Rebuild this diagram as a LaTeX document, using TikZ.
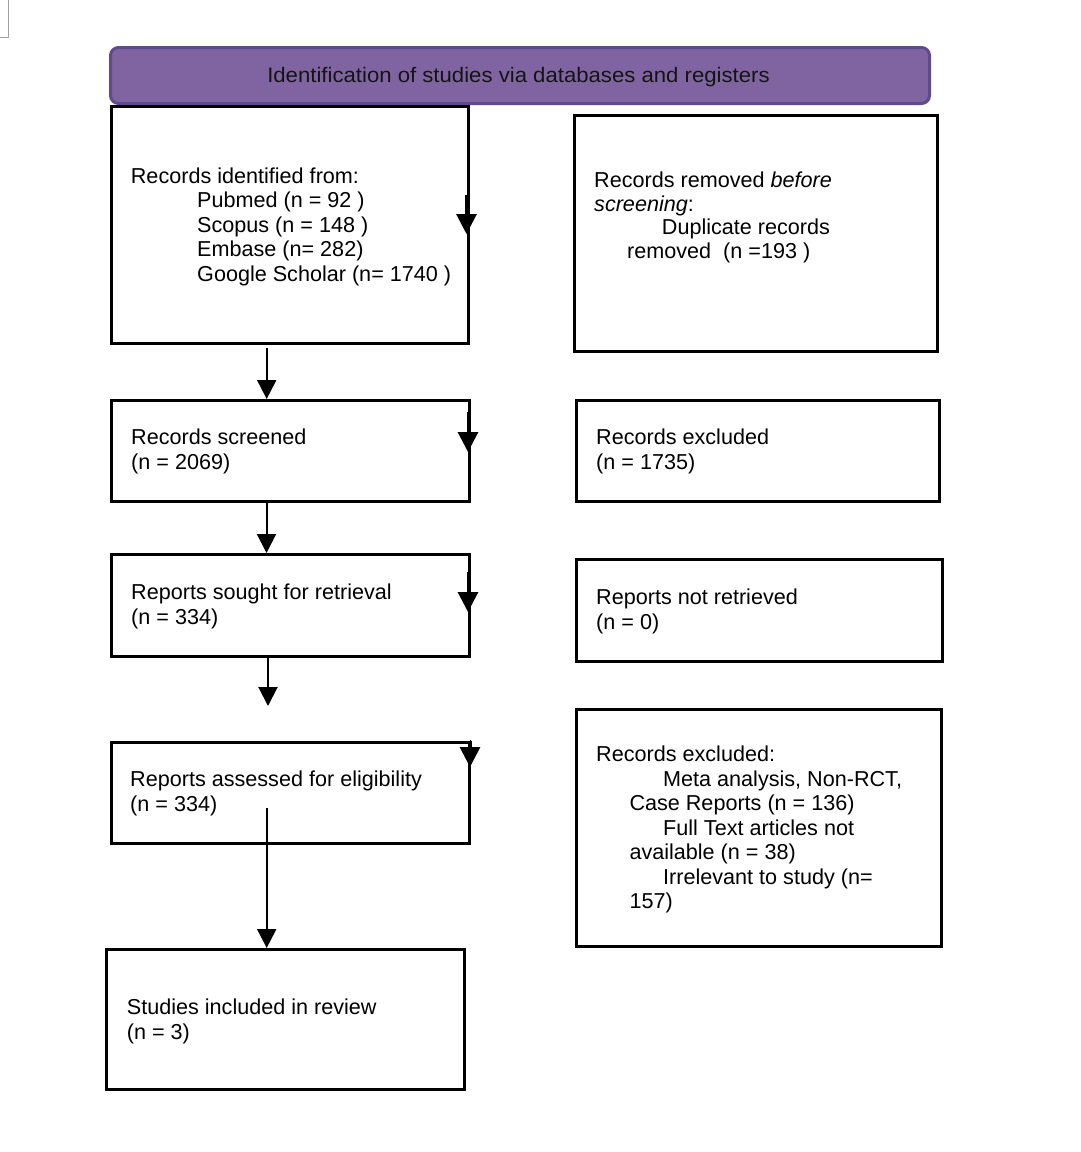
\documentclass[tikz,border=0pt]{standalone}
\usepackage{fontspec}
\setmainfont{Liberation Sans}
\newfontfamily\hdrfont[FakeStretch=1.055]{Liberation Sans}
\usetikzlibrary{arrows.meta}
\definecolor{hdrfill}{HTML}{8064A2}
\definecolor{hdrdraw}{HTML}{5F4A8B}
\definecolor{markgray}{HTML}{A0A0A0}
\tikzset{
  box/.style={draw=black, line width=3pt, anchor=north west, inner sep=0pt, fill=white},
  txt/.style={anchor=base west, inner sep=0pt, font=\fontsize{21.6}{24.5}\selectfont},
  arr/.style={line width=2pt, -{Triangle[width=19pt,length=19pt]}},
  earr/.style={line width=3pt, -{Triangle[width=20pt,length=20pt]}},
}
\begin{document}
\begin{tikzpicture}[x=1pt,y=-1pt]
\useasboundingbox (0,0) rectangle (1080,1152);
\fill[white] (0,0) rectangle (1080,1152);
% corner mark
\draw[markgray, line width=1pt] (8,0) -- (8,37) -- (0,37);
% header
\node[draw=hdrdraw, fill=hdrfill, line width=3pt, rounded corners=8pt, anchor=north west,
      minimum width=819pt, minimum height=56pt, inner sep=0pt] (hdr) at (109,46) {};
\node[anchor=base, inner sep=0pt, font=\hdrfont\fontsize{21}{24}\selectfont, text=black!92] (hdrt) at (518.5,82.3)
  {Identification of studies via databases and registers};
% boxes
\node[box, minimum width=357pt, minimum height=237pt] (b1) at (110,105) {};
\node[box, minimum width=363pt, minimum height=236pt] (b2) at (573,114) {};
\node[box, minimum width=358pt, minimum height=101pt] (b3) at (110,399) {};
\node[box, minimum width=363pt, minimum height=101pt] (b4) at (575,399) {};
\node[box, minimum width=358pt, minimum height=102pt] (b5) at (110,553) {};
\node[box, minimum width=366pt, minimum height=102pt] (b6) at (575,558) {};
\node[box, minimum width=358pt, minimum height=101pt] (b7) at (110,741) {};
\node[box, minimum width=365pt, minimum height=237pt] (b8) at (575,708) {};
\node[box, minimum width=358pt, minimum height=140pt] (b9) at (105,948) {};
% texts box 1
\node[txt] (t1a) at (130.7,183) {Records identified from:};
\node[txt] (t1b) at (197,207.5) {Pubmed (n = 92 )};
\node[txt] (t1c) at (197,232) {Scopus (n = 148 )};
\node[txt] (t1d) at (197,256.5) {Embase (n= 282)};
\node[txt] (t1e) at (197,281) {Google Scholar (n= 1740 )};
% box 2
\node[txt] (t2a) at (594,187.3) {Records removed \textit{before}};
\node[txt] (t2b) at (594,211.3) {\textit{screening}:};
\node[txt] (t2c) at (661.7,234.5) {Duplicate records};
\node[txt] (t2d) at (627,258.5) {removed~~(n =193 )};
% box 3,4
\node[txt] (t3a) at (131,444.5) {Records screened};
\node[txt] (t3b) at (131,469) {(n = 2069)};
\node[txt] (t4a) at (596,444.5) {Records excluded};
\node[txt] (t4b) at (596,469) {(n = 1735)};
% box 5,6
\node[txt] (t5a) at (131,599.5) {Reports sought for retrieval};
\node[txt] (t5b) at (131,624) {(n = 334)};
\node[txt] (t6a) at (596,604.5) {Reports not retrieved};
\node[txt] (t6b) at (596,629) {(n = 0)};
% box 7
\node[txt] (t7a) at (130,786.5) {Reports assessed for eligibility};
\node[txt] (t7b) at (130,811) {(n = 334)};
% box 8
\node[txt] (t8a) at (596,761.5) {Records excluded:};
\node[txt] (t8b) at (663,786) {Meta analysis, Non-RCT,};
\node[txt] (t8c) at (629.3,810.5) {Case Reports (n = 136)};
\node[txt] (t8d) at (663,835) {Full Text articles not};
\node[txt] (t8e) at (629.3,859.5) {available (n = 38)};
\node[txt] (t8f) at (663,884) {Irrelevant to study (n=};
\node[txt] (t8g) at (629.3,908.5) {157)};
% box 9
\node[txt] (t9a) at (126.7,1014.3) {Studies included in review};
\node[txt] (t9b) at (126.7,1039) {(n = 3)};
% main arrows
\coordinate (a1s) at (266.7,348);
\coordinate (a2s) at (266.5,503);
\coordinate (a3s) at (268,658);
\coordinate (a3e) at (268,706);
\coordinate (a4s) at (266.7,808);
\draw[arr] (a1s) -- (a1s |- b3.north);
\draw[arr] (a2s) -- (a2s |- b5.north);
\draw[arr] (a3s) -- (a3e);
\draw[arr] (a4s) -- (a4s |- b9.north);
% edge arrowheads
\coordinate (e1s) at (466.5,195);
\coordinate (e1e) at (466.5,234);
\coordinate (e3s) at (468,412);
\coordinate (e3e) at (468,452);
\coordinate (e5s) at (468,572);
\coordinate (e5e) at (468,612);
\coordinate (e7s) at (470,741);
\coordinate (e7e) at (470,767);
\draw[earr] (e1s) -- (e1e);
\draw[earr] (e3s) -- (e3e);
\draw[earr] (e5s) -- (e5e);
\draw[line width=3pt] (b7.north east) -- (e7s);
\draw[earr] (e7s) -- (e7e);
\end{tikzpicture}
\end{document}
